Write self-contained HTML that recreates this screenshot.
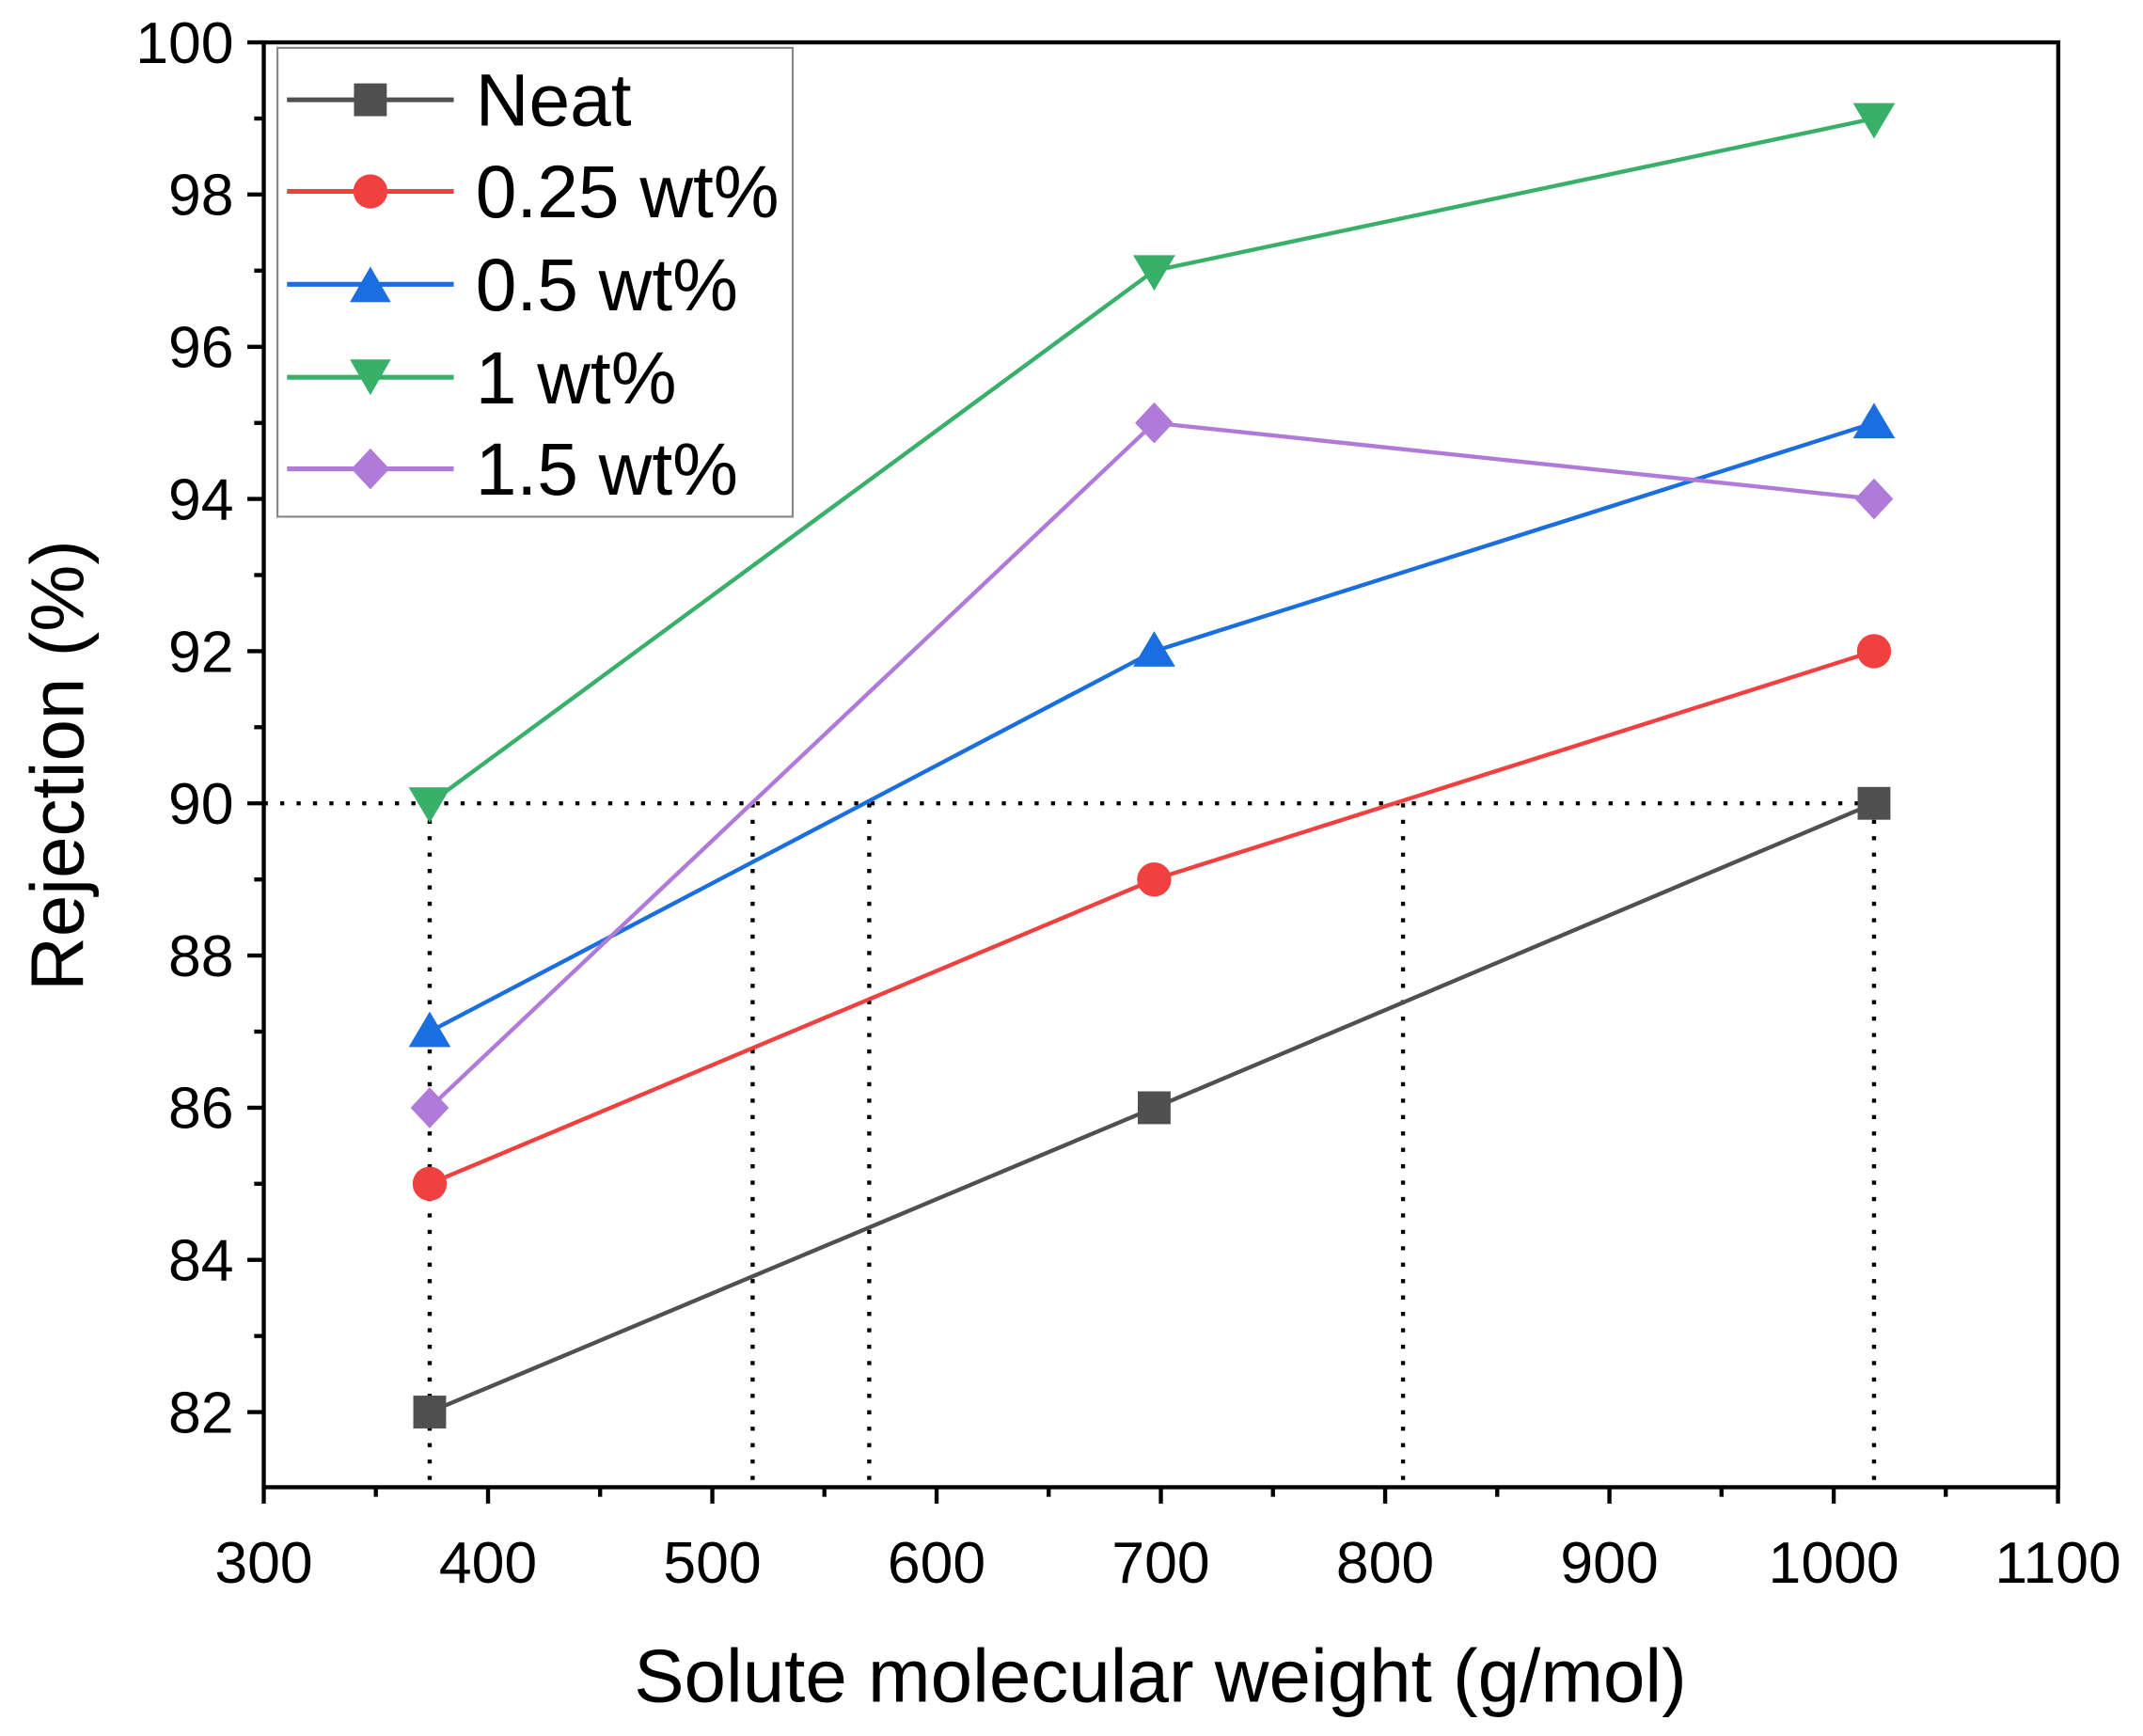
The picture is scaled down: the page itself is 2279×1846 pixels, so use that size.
<!DOCTYPE html>
<html><head><style>html,body{margin:0;padding:0;background:#fff}svg{display:block}</style></head>
<body>
<svg width="2279" height="1846" viewBox="0 0 1568 1270" preserveAspectRatio="none" xmlns="http://www.w3.org/2000/svg" font-family="Liberation Sans, sans-serif">
<rect width="1568" height="1270" fill="#fff"/>
<g stroke="#000" stroke-width="3" stroke-dasharray="3,9" fill="none">
<line x1="193" y1="587.7" x2="1371" y2="587.7"/>
<line x1="314.4" y1="587.7" x2="314.4" y2="1088"/>
<line x1="550.7" y1="587.7" x2="550.7" y2="1088"/>
<line x1="636" y1="587.7" x2="636" y2="1088"/>
<line x1="1026.6" y1="587.7" x2="1026.6" y2="1088"/>
<line x1="1371.2" y1="587.7" x2="1371.2" y2="1088"/>
</g>
<g fill="none" stroke-width="3">
<polyline stroke="#505050" points="314.4,1033 844.5,810.4 1371.2,587.7"/>
<polyline stroke="#f04040" points="314.4,866 844.5,643.4 1371.2,476.4"/>
<polyline stroke="#1a6ee0" points="314.4,754.7 844.5,476.4 1371.2,309.4"/>
<polyline stroke="#38b06a" points="314.4,587.7 844.5,198 1371.2,86.7"/>
<polyline stroke="#b07ad8" points="314.4,810.4 844.5,309.4 1371.2,365"/>
</g>
<g fill="#505050"><rect x="302.4" y="1021" width="24" height="24"/><rect x="832.5" y="798.4" width="24" height="24"/><rect x="1359.2" y="575.7" width="24" height="24"/></g>
<g fill="#f04040"><circle cx="314.4" cy="866" r="12.5"/><circle cx="844.5" cy="643.4" r="12.5"/><circle cx="1371.2" cy="476.4" r="12.5"/></g>
<g fill="#1a6ee0"><polygon points="314.4,740 299,766 329.8,766"/><polygon points="844.5,461.7 829.1,487.7 859.9,487.7"/><polygon points="1371.2,294.7 1355.8,320.7 1386.6,320.7"/></g>
<g fill="#38b06a"><polygon points="314.4,602 299,576 329.8,576"/><polygon points="844.5,212.7 829.1,186.7 859.9,186.7"/><polygon points="1371.2,101.4 1355.8,75.4 1386.6,75.4"/></g>
<g fill="#b07ad8"><polygon points="314.4,795.4 328.4,810.4 314.4,825.4 300.4,810.4"/><polygon points="844.5,294.4 858.5,309.4 844.5,324.4 830.5,309.4"/><polygon points="1371.2,350 1385.2,365 1371.2,380 1357.2,365"/></g>
<rect x="193" y="31" width="1313" height="1057" fill="none" stroke="#000" stroke-width="3"/>
<g stroke="#000" stroke-width="3">
<line x1="193" y1="1088" x2="193" y2="1100"/><line x1="357.1" y1="1088" x2="357.1" y2="1100"/><line x1="521.2" y1="1088" x2="521.2" y2="1100"/><line x1="685.3" y1="1088" x2="685.3" y2="1100"/><line x1="849.4" y1="1088" x2="849.4" y2="1100"/><line x1="1013.5" y1="1088" x2="1013.5" y2="1100"/><line x1="1177.6" y1="1088" x2="1177.6" y2="1100"/><line x1="1341.7" y1="1088" x2="1341.7" y2="1100"/><line x1="1505.8" y1="1088" x2="1505.8" y2="1100"/>
<line x1="275" y1="1088" x2="275" y2="1095"/><line x1="439.1" y1="1088" x2="439.1" y2="1095"/><line x1="603.2" y1="1088" x2="603.2" y2="1095"/><line x1="767.3" y1="1088" x2="767.3" y2="1095"/><line x1="931.4" y1="1088" x2="931.4" y2="1095"/><line x1="1095.5" y1="1088" x2="1095.5" y2="1095"/><line x1="1259.6" y1="1088" x2="1259.6" y2="1095"/><line x1="1423.7" y1="1088" x2="1423.7" y2="1095"/>
<line x1="181" y1="31" x2="193" y2="31"/><line x1="181" y1="142.3" x2="193" y2="142.3"/><line x1="181" y1="253.7" x2="193" y2="253.7"/><line x1="181" y1="365" x2="193" y2="365"/><line x1="181" y1="476.4" x2="193" y2="476.4"/><line x1="181" y1="587.7" x2="193" y2="587.7"/><line x1="181" y1="699" x2="193" y2="699"/><line x1="181" y1="810.4" x2="193" y2="810.4"/><line x1="181" y1="921.7" x2="193" y2="921.7"/><line x1="181" y1="1033" x2="193" y2="1033"/>
<line x1="186" y1="86.7" x2="193" y2="86.7"/><line x1="186" y1="198" x2="193" y2="198"/><line x1="186" y1="309.4" x2="193" y2="309.4"/><line x1="186" y1="420.7" x2="193" y2="420.7"/><line x1="186" y1="532" x2="193" y2="532"/><line x1="186" y1="643.4" x2="193" y2="643.4"/><line x1="186" y1="754.7" x2="193" y2="754.7"/><line x1="186" y1="866" x2="193" y2="866"/><line x1="186" y1="977.4" x2="193" y2="977.4"/>
</g>
<g font-size="43" text-anchor="middle" fill="#000">
<text x="193" y="1158">300</text><text x="357.1" y="1158">400</text><text x="521.2" y="1158">500</text><text x="685.3" y="1158">600</text><text x="849.4" y="1158">700</text><text x="1013.5" y="1158">800</text><text x="1177.6" y="1158">900</text><text x="1341.7" y="1158">1000</text><text x="1505.8" y="1158">1100</text>
</g>
<g font-size="43" text-anchor="end" fill="#000">
<text x="171" y="46">100</text><text x="171" y="157.3">98</text><text x="171" y="268.7">96</text><text x="171" y="380">94</text><text x="171" y="491.4">92</text><text x="171" y="602.7">90</text><text x="171" y="714">88</text><text x="171" y="825.4">86</text><text x="171" y="936.7">84</text><text x="171" y="1048">82</text>
</g>
<text x="849" y="1245" font-size="55" text-anchor="middle">Solute molecular weight (g/mol)</text>
<text transform="translate(61,560) rotate(-90)" font-size="55" text-anchor="middle">Rejection (%)</text>
<rect x="203" y="35" width="377" height="343" fill="#fff" stroke="#888" stroke-width="1.5"/>
<g stroke-width="3.5">
<line x1="210" y1="73" x2="332" y2="73" stroke="#505050"/><line x1="210" y1="140" x2="332" y2="140" stroke="#f04040"/><line x1="210" y1="208" x2="332" y2="208" stroke="#1a6ee0"/><line x1="210" y1="276" x2="332" y2="276" stroke="#38b06a"/><line x1="210" y1="343" x2="332" y2="343" stroke="#b07ad8"/>
</g>
<rect x="259" y="61" width="24" height="24" fill="#505050"/>
<circle cx="271" cy="140" r="12.5" fill="#f04040"/>
<polygon points="271,195 256,221 286,221" fill="#1a6ee0"/>
<polygon points="271,289 256,263 286,263" fill="#38b06a"/>
<polygon points="271,328 285,343 271,358 257,343" fill="#b07ad8"/>
<g font-size="54" fill="#000">
<text x="348" y="92">Neat</text><text x="348" y="159">0.25 wt%</text><text x="348" y="227">0.5 wt%</text><text x="348" y="295">1 wt%</text><text x="348" y="362">1.5 wt%</text>
</g>
</svg>
</body></html>
